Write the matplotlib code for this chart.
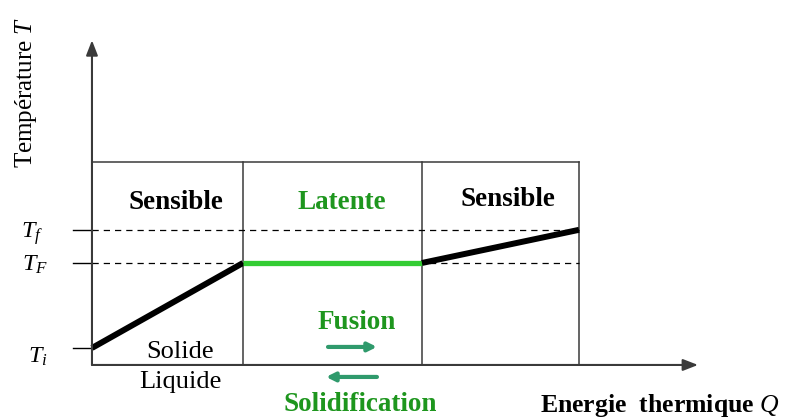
import matplotlib
matplotlib.use("Agg")
import matplotlib.pyplot as plt

plt.rcParams['mathtext.fontset'] = 'custom'
plt.rcParams['mathtext.rm'] = 'Liberation Serif'
plt.rcParams['mathtext.it'] = 'Liberation Serif:italic'
plt.rcParams['font.family'] = ['Liberation Serif', 'DejaVu Serif']

# ---- data (energy Q in arbitrary units, temperature T in arbitrary units) ----
stage_bounds_Q = [0.0, 1.0, 2.185, 3.225]          # boundaries of the three stages
curve_Q = [0.0, 1.0, 2.185, 3.225]                 # heating curve, energy
curve_T = [0.0, 1.0, 1.0, 1.39]                    # heating curve, temperature
T_levels = [0.0, 1.0, 1.39]                        # Ti, TF, Tf
T_labels = [r'$T_i$', r'$T_F$', r'$T_f$']
stage_names = ['Sensible', 'Latente', 'Sensible']
box_top = 2.19
axis_origin_T = -0.2
axis_top_T = 3.62
axis_right_Q = 4.013

fig = plt.figure(figsize=(7.85, 4.18), dpi=100)
ax = fig.add_axes([0, 0, 1, 1])
ax.set_xlim(-0.609, 4.589)
ax.set_ylim(-0.824, 4.094)
ax.axis('off')

gray = '#3a3a3a'
# axes with arrows
ax.annotate('', xy=(0, axis_top_T), xytext=(0, axis_origin_T),
            arrowprops=dict(arrowstyle='-|>,head_length=0.9,head_width=0.35',
                            color=gray, lw=1.5, shrinkA=0, shrinkB=0))
ax.annotate('', xy=(axis_right_Q, axis_origin_T), xytext=(0, axis_origin_T),
            arrowprops=dict(arrowstyle='-|>,head_length=0.9,head_width=0.35',
                            color=gray, lw=1.5, shrinkA=0, shrinkB=0))

# stage boxes
ax.plot([stage_bounds_Q[0], stage_bounds_Q[-1]], [box_top, box_top], color=gray, lw=1.1)
for q in stage_bounds_Q[1:]:
    ax.plot([q, q], [axis_origin_T, box_top], color=gray, lw=1.1)

# temperature ticks & dashed guides
tick_start = -0.126
for i, t in enumerate(T_levels):
    ax.plot([tick_start, 0], [t, t], color='black', lw=1.0)
    if i > 0:
        ax.plot([0, stage_bounds_Q[-1]], [t, t], color='black', lw=0.9,
                linestyle=(0, (5, 4)))

# heating curve
ax.plot(curve_Q[0:2], curve_T[0:2], color='black', lw=4.3, solid_capstyle='butt')
ax.plot(curve_Q[1:3], curve_T[1:3], color='#33cc33', lw=3.8, solid_capstyle='butt')
ax.plot(curve_Q[2:4], curve_T[2:4], color='black', lw=4.3, solid_capstyle='butt')

# T labels
lab_pos = [(-0.358, -0.106), (-0.377, 0.976), (-0.397, 1.34)]
for (x, y), s in zip(lab_pos, T_labels):
    ax.text(x, y, s, fontsize=17.5, ha='center', va='center')

# stage names
green_txt = '#1e961e'
fs_b = 19.5
ax.text(0.556, 1.706, stage_names[0], fontsize=fs_b, fontweight='bold', ha='center', va='center')
ax.text(1.656, 1.706, stage_names[1], fontsize=fs_b, fontweight='bold', ha='center', va='center',
        color=green_txt)
ax.text(2.755, 1.741, stage_names[2], fontsize=fs_b, fontweight='bold', ha='center', va='center')

# Solide / Liquide
ax.text(0.583, -0.047, 'Solide', fontsize=19, ha='center', va='center')
ax.text(0.583, -0.40, 'Liquide', fontsize=19, ha='center', va='center')

# Fusion / Solidification
arrow_col = '#2f9a6c'
ax.text(1.755, 0.294, 'Fusion', fontsize=fs_b, fontweight='bold', ha='center', va='center',
        color=green_txt)
ax.annotate('', xy=(1.887, 0.012), xytext=(1.563, 0.012),
            arrowprops=dict(arrowstyle='-|>,head_length=0.5,head_width=0.25',
                            color=arrow_col, lw=3, shrinkA=0, shrinkB=0))
ax.annotate('', xy=(1.55, -0.341), xytext=(1.887, -0.341),
            arrowprops=dict(arrowstyle='-|>,head_length=0.5,head_width=0.25',
                            color=arrow_col, lw=3, shrinkA=0, shrinkB=0))
ax.text(1.775, -0.81, 'Solidification', fontsize=fs_b, fontweight='bold', ha='center',
        va='bottom', color=green_txt)

# axis labels
ax.text(2.967, -0.753, r'Energie  thermique $Q$', fontsize=18.5, fontweight='bold',
        ha='left', va='baseline')
ax.text(-0.44, 3.012, r'Température $T$', fontsize=18, rotation=90,
        ha='center', va='center')

fig.savefig('out.png', dpi=100)
